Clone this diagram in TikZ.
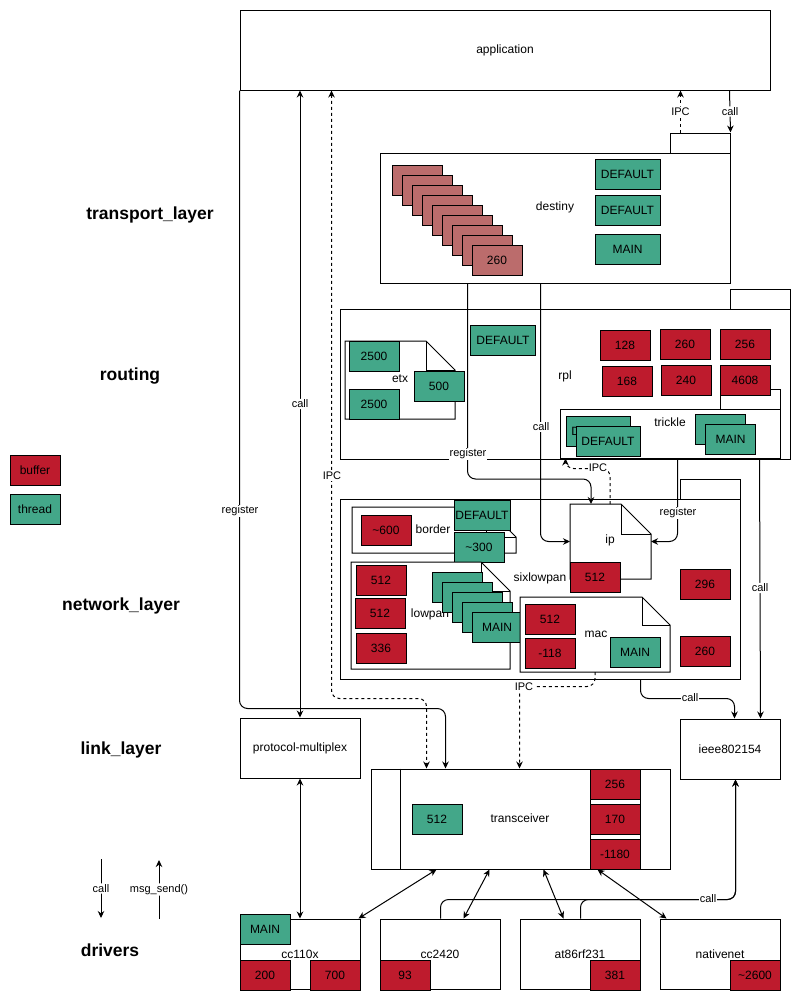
\documentclass[tikz,border=0pt]{standalone}
\usepackage{fontspec}
\setmainfont{Liberation Sans}
\usetikzlibrary{arrows.meta,calc}
\definecolor{bufred}{RGB}{190,27,45}
\definecolor{thrgreen}{RGB}{67,167,137}
\definecolor{fadered}{RGB}{187,108,108}
\newcommand\fs[1]{\fontsize{#1}{#1}\selectfont}
\newcommand\notebox[6]{%
  \draw[fill=white,line width=1pt] (#2,#3) -- ({#4-#6},#3) -- (#4,{#3+#6}) -- (#4,#5) -- (#2,#5) -- cycle;
  \draw[line width=0.7pt] ({#4-#6},#3) -- ({#4-#6},{#3+#6}) -- (#4,{#3+#6});
  \node[frame, minimum width={#4-#2}, minimum height={#5-#3}] (#1) at ({(#2+#4)/2},{(#3+#5)/2}) {};
}
\tikzset{
  every node/.style={font=\fs{12}},
  box/.style={draw, fill=white, inner sep=0pt, line width=1pt},
  frame/.style={inner sep=0pt, outer sep=0pt},
  buf/.style={box, fill=bufred, minimum width=50pt, minimum height=30pt},
  fbuf/.style={buf, fill=fadered},
  thr/.style={box, fill=thrgreen, minimum width=50pt, minimum height=30pt},
  lbl/.style={fill=white, font=\fs{11}, inner sep=1pt},
  layer/.style={font=\fs{17.5}\bfseries},
  conn/.style={line width=1pt, rounded corners=8pt},
  arr/.style={conn, -{Stealth[length=7pt,width=6.5pt]}},
  darr/.style={conn, {Stealth[length=7pt,width=6.5pt]}-{Stealth[length=7pt,width=6.5pt]}},
  ipc/.style={dash pattern=on 3pt off 3pt},
}
\begin{document}
\begin{tikzpicture}[x=1pt,y=-1pt]
\useasboundingbox[fill=white] (0,0) rectangle (792,1001);

% layer labels
\node[layer] (L1) at (150,215) {transport\_layer};
\node[layer] (L2) at (130,376) {routing};
\node[layer] (L3) at (121,606) {network\_layer};
\node[layer] (L4) at (121,750) {link\_layer};
\node[layer] (L5) at (110,950) {drivers};

% legend
\node[buf] (legbuf) at (35,470) {buffer};
\node[thr] (legthr) at (35,509) {thread};
\coordinate (lc1) at (101,859);
\coordinate (lc2) at (101,918);
\coordinate (lm1) at (159,919);
\coordinate (lm2) at (159,860);
\draw[arr] (lc1) -- (lc2) node[lbl,midway] (lcall) {call};
\draw[arr] (lm1) -- (lm2) node[lbl,midway] (lmsg) {msg\_send()};

% application
\node[box, minimum width=530pt, minimum height=80pt] (app) at (505,50) {application};

% destiny
\node[box, minimum width=60pt, minimum height=20pt] (dtab) at (700,143) {};
\node[box, minimum width=350pt, minimum height=130pt] (destiny) at (555,218) {};
\node (destinyT) at (555,207) {destiny};
\foreach \i in {0,...,8} {
  \node[fbuf] (dr\i) at ({417+10*\i},{180+10*\i}) {260};
}
\node[thr, minimum width=65pt] (dt1) at (627.5,174) {DEFAULT};
\node[thr, minimum width=65pt] (dt2) at (627.5,210) {DEFAULT};
\node[thr, minimum width=65pt] (dt3) at (627.5,249) {MAIN};

% routing
\node[box, minimum width=60pt, minimum height=20pt] (rtab) at (760,299) {};
\node[box, minimum width=450pt, minimum height=150pt] (routing) at (565,384) {};
\node (routingT) at (565,376) {rpl};
\notebox{etx}{345}{341}{455}{419}{29}
\node (etxT) at (400,379) {etx};
\node[thr] (etx1) at (374,356) {2500};
\node[thr] (etx2) at (374,404) {2500};
\node[thr] (etx3) at (439,386) {500};
\node[thr, minimum width=65pt] (rdef) at (503,340) {DEFAULT};
\node[box, minimum width=60pt, minimum height=20pt] (ttab) at (750,399) {};
\node[box, minimum width=220pt, minimum height=49pt] (trickle) at (670,433.5) {};
\node (trickleT) at (670,422) {trickle};
\node[buf] (r1) at (625,345) {128};
\node[buf] (r2) at (685,344) {260};
\node[buf] (r3) at (745,344) {256};
\node[buf] (r4) at (627,381) {168};
\node[buf] (r5) at (686,380) {240};
\node[buf] (r6) at (745,380) {4608};
\node[thr, minimum width=64pt] (tt1) at (598,431) {DEFAULT};
\node[thr, minimum width=64pt] (tt2) at (608,441) {DEFAULT};
\node[thr] (tt3) at (720,429) {MAIN};
\node[thr] (tt4) at (730.5,439) {MAIN};

% network layer
\node[box, minimum width=60pt, minimum height=20pt] (ntab) at (710,489) {};
\node[box, minimum width=400pt, minimum height=180pt] (net) at (540,589) {};
\node (netT) at (540,578) {sixlowpan};
\notebox{border}{352}{507}{516}{553}{30}
\node[buf] (b1) at (386,530) {\textasciitilde600};
\node (borderT) at (433,529) {border};
\node[thr, minimum width=56pt] (b2) at (482,515) {DEFAULT};
\node[thr] (b3) at (479,547) {\textasciitilde300};
\notebox{lowpan}{351}{562}{510}{669}{29}
\node (lowpanT) at (430,614) {lowpan};
\node[buf] (lp1) at (381,580) {512};
\node[buf] (lp2) at (380,613) {512};
\node[buf] (lp3) at (381,648) {336};
\foreach \i in {0,...,4} {
  \node[thr] (lm\i) at ({457+10*\i},{587+10*\i}) {MAIN};
}
\notebox{ip}{570}{504}{651}{579}{30}
\node (ipT) at (610,540) {ip};
\node[buf] (ip1) at (595,577) {512};
\notebox{mac}{520}{597}{670}{672}{28}
\node (macT) at (596,634) {mac};
\node[buf] (m1) at (550,619) {512};
\node[buf] (m2) at (550,653) {-118};
\node[thr] (m3) at (635,652) {MAIN};
\node[buf] (n1) at (705,584) {296};
\node[buf] (n2) at (705,651) {260};

% link layer
\node[box, minimum width=120pt, minimum height=60pt] (pm) at (300,748) {protocol-multiplex};
\node[box, minimum width=100pt, minimum height=60pt] (ieee) at (730,749) {ieee802154};

% transceiver
\node[box, minimum width=299pt, minimum height=100pt] (trans) at (520.5,819) {};
\draw[line width=1pt] ($(trans.north west)+(30,0)$) -- ($(trans.south west)+(30,0)$);
\node (transT) at (520,818) {transceiver};
\node[box, minimum width=50pt, minimum height=100pt] (tstack) at (615,819) {};
\node[buf] (tr1) at (615,784) {256};
\node[buf] (tr2) at (615,819) {170};
\node[buf] (tr3) at (615,854) {-1180};
\node[thr] (tr4) at (437,819) {512};

% drivers
\node[box, minimum width=120pt, minimum height=70pt] (cc110x) at (300,954) {cc110x};
\node[thr] (cc1) at (265,929) {MAIN};
\node[buf] (cc2) at (265,975) {200};
\node[buf] (cc3) at (335,975) {700};
\node[box, minimum width=120pt, minimum height=70pt] (cc2420) at (440,954) {cc2420};
\node[buf] (cc4) at (405,975) {93};
\node[box, minimum width=120pt, minimum height=70pt] (at86) at (580,954) {at86rf231};
\node[buf] (at1) at (615,975) {381};
\node[box, minimum width=120pt, minimum height=70pt] (nnet) at (720,954) {nativenet};
\node[buf] (nn1) at (755,975) {\textasciitilde2600};

% connectors
\draw[darr] (app.south -| pm.north) -- (pm.north) node[lbl,pos=0.5] (c1) {call};
\draw[darr,ipc] ($(app.south west)+(92,0)$) |- ($(trans.north west)+(56,-70)$) -- ($(trans.north west)+(56,0)$);
\node[lbl] (c2) at (332,476) {IPC};
\draw[arr] (app.south west) |- ($(trans.north west)+(75,-60)$) -- ($(trans.north west)+(75,0)$);
\node[lbl] (c3) at (240,511) {register};
\draw[arr,ipc] ($(dtab.north west)+(11,0)$) -- ($(app.south west)+(441,0)$) node[lbl,midway] (c4) {IPC};
\draw[arr] ($(app.south west)+(490,0)$) -- (dtab.north east) node[lbl,midway] (c5) {call};
\draw[arr] ($(destiny.south west)+(88,0)$) |- ($(ip.north west)+(21,-25)$) -- ($(ip.north west)+(21,0)$);
\node[lbl] (c6) at (468,454) {register};
\draw[arr] ($(destiny.south west)+(161,0)$) |- (ip.west);
\node[lbl] (c7) at (541,427) {call};
\draw[arr,ipc] ($(ip.north west)+(40,0)$) |- ($(trickle.south west)+(6,10)$) -- ($(trickle.south west)+(6,0)$);
\node[lbl] (c8) at (598,468) {IPC};
\draw[arr] ($(trickle.south west)+(118,0)$) |- (ip.east);
\node[lbl] (c9) at (678,513) {register};
\draw[arr] ($(routing.south west)+(420,0)$) -- ($(ieee.north east)+(-20,0)$) node[lbl,pos=0.496] (c10) {call};
\draw[arr] ($(net.south west)+(301,0)$) |- ($(ieee.north west)+(55,-20)$) -- ($(ieee.north west)+(55,0)$);
\node[lbl] (c11) at (690,698) {call};
\draw[arr,ipc] ($(mac.south west)+(75,0)$) |- ($(trans.north west)+(149,-82)$) -- ($(trans.north west)+(149,0)$);
\node[lbl] (c12) at (524,687) {IPC};
\draw[darr] ($(trans.south west)+(66,0)$) -- ($(cc110x.north east)+(-2,0)$);
\draw[darr] ($(trans.south west)+(119,0)$) -- ($(cc2420.north west)+(84,0)$);
\draw[darr] ($(trans.south west)+(173,0)$) -- ($(at86.north west)+(44,0)$);
\draw[darr] ($(trans.south west)+(227,0)$) -- ($(nnet.north west)+(7,0)$);
\draw[darr] (pm.south) -- (cc110x.north);
\draw[arr] ($(cc2420.north west)+(61,0)$) |- ($(ieee.south west)+(56,120)$) -- ($(ieee.south west)+(56,0)$);
\draw[arr] ($(at86.north west)+(61,0)$) |- ($(ieee.south west)+(56,120)$) -- ($(ieee.south west)+(56,0)$);
\node[lbl] (c13) at (708,899) {call};
\end{tikzpicture}
\end{document}
